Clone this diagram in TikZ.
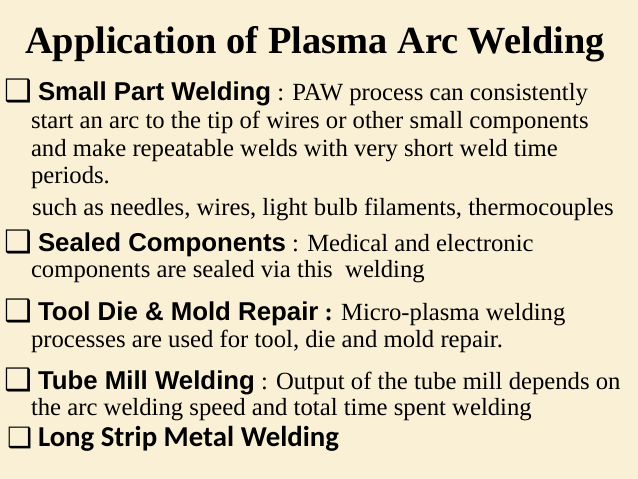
\documentclass[tikz,border=0pt]{standalone}
\usepackage{fontspec}
\setmainfont{Liberation Serif}
\newfontfamily\hdrfont{Liberation Sans}
\newfontfamily\calfont{Carlito}
\newfontfamily\symfont{DejaVu Sans}
\definecolor{parch}{RGB}{250,240,213}
\begin{document}
\begin{tikzpicture}[x=1pt,y=-1pt,
  every node/.style={inner sep=0pt,outer sep=0pt,anchor=base west},
  body/.style={font=\fontsize{24.7}{28}\selectfont},
  hdr/.style={font=\fontsize{24.7}{28}\selectfont},
  bx/.style={font=\symfont\fontsize{31}{32}\selectfont}]
\fill[parch] (0,0) rectangle (638,479);
\useasboundingbox (0,0) rectangle (638,479);
\node[font=\bfseries\fontsize{38.4}{40}\selectfont] (title) at (25,53) {Application of Plasma Arc Welding};
% item 1
\node[bx] (b1) at (5,101) {❑};
\node[hdr] (h1) at (38,100) {{\hdrfont\bfseries\fontsize{25.8}{28}\selectfont Small Part Welding} : PAW process can consistently};
\node[body] (l2) at (31,128) {start an arc to the tip of wires or other small components};
\node[body] (l3) at (31,156) {and make repeatable welds with very short weld time};
\node[body] (l4) at (31,183) {periods.};
\node[body] (l5) at (32,215) {such as needles, wires, light bulb filaments, thermocouples};
% item 2
\node[bx] (b2) at (5,252) {❑};
\node[hdr] (h2) at (38,251) {{\hdrfont\bfseries\fontsize{25.8}{28}\selectfont Sealed Components} : Medical and electronic};
\node[body] (l7) at (31,277) {components are sealed via this \ welding};
% item 3
\node[bx] (b3) at (5,321) {❑};
\node[hdr] (h3) at (38,320) {{\hdrfont\bfseries\fontsize{25.8}{28}\selectfont Tool Die \& Mold Repair} \textbf{:} Micro-plasma welding};
\node[body] (l9) at (31,347) {processes are used for tool, die and mold repair.};
% item 4
\node[bx] (b4) at (5,390) {❑};
\node[hdr] (h4) at (38,389) {{\hdrfont\bfseries\fontsize{25.8}{28}\selectfont Tube Mill Welding} : Output of the tube mill depends on};
\node[body] (l11) at (31,415) {the arc welding speed and total time spent welding};
% item 5
\node[bx,font=\symfont\fontsize{28}{30}\selectfont] (b5) at (7,447) {❑};
\node[font=\calfont\bfseries\fontsize{28.8}{30}\selectfont] (h5) at (38,446) {Long Strip Metal Welding};
\end{tikzpicture}
\end{document}
